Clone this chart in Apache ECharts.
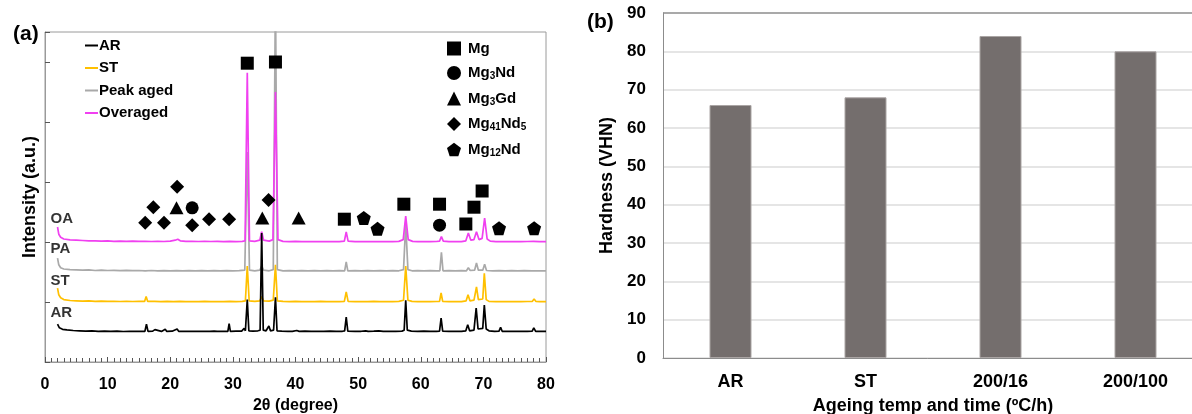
<!DOCTYPE html>
<html>
<head>
<meta charset="utf-8">
<script src="https://cdn.jsdelivr.net/npm/echarts@6/dist/echarts.min.js"></script>
<style>
  html, body { margin: 0; padding: 0; background: #fff; }
  #chart { width: 1192px; height: 414px; }
</style>
</head>
<body>
<div id="chart"></div>
<script>
// ---- (a) XRD patterns, stacked with vertical offsets: [2θ (deg), intensity (a.u.)] ----
const xrdAR = [
  [2.0,0.63],[2.3,0.57],[2.8,0.545],[3.5,0.535],[4.5,0.525],[5.5,0.52],[6.5,0.515],[7.5,0.52],[8.5,0.512],[9.5,0.515],
  [10.5,0.51],[11.5,0.514],[12.5,0.508],[13.5,0.512],[14.5,0.51],[15.5,0.512],[15.95,0.51],[16.2,0.63],[16.45,0.51],
  [17.2,0.515],[17.55,0.54],[17.8,0.512],[18.6,0.51],[19.2,0.545],[19.45,0.51],[20.3,0.513],[21.1,0.55],[21.35,0.51],
  [22.3,0.512],[23.4,0.51],[23.65,0.54],[23.9,0.51],[24.8,0.512],[25.8,0.51],[26.1,0.54],[26.35,0.51],[27.0,0.513],
  [27.3,0.53],[27.5,0.51],[28.5,0.512],[29.2,0.51],[29.4,0.64],[29.6,0.51],[30.5,0.514],[31.4,0.515],[31.8,0.56],
  [32.0,0.52],[32.3,1.04],[32.55,0.52],[33.2,0.515],[34.0,0.52],[34.35,0.53],[34.6,2.15],[34.85,0.53],[35.3,0.52],
  [35.75,0.6],[36.0,0.52],[36.5,0.53],[36.8,1.08],[37.05,0.52],[37.8,0.515],[38.8,0.512],[39.5,0.51],[40.2,0.525],
  [40.6,0.51],[41.5,0.513],[42.5,0.51],[43.5,0.512],[44.5,0.51],[45.5,0.515],[46.5,0.51],[47.5,0.512],[47.85,0.52],
  [48.1,0.75],[48.35,0.515],[49.5,0.51],[50.5,0.512],[51.2,0.52],[51.6,0.51],[52.5,0.514],[53.3,0.52],[54.0,0.51],
  [55.0,0.512],[56.0,0.51],[57.0,0.515],[57.35,0.53],[57.6,1.03],[57.85,0.53],[58.5,0.515],[59.5,0.51],[60.5,0.513],
  [61.5,0.51],[62.5,0.512],[63.0,0.515],[63.25,0.73],[63.5,0.515],[64.5,0.51],[65.5,0.512],[66.5,0.51],[67.2,0.52],
  [67.5,0.62],[67.8,0.52],[68.5,0.53],[68.85,0.9],[69.15,0.55],[69.9,0.56],[70.15,0.95],[70.45,0.55],[70.9,0.52],
  [71.8,0.51],[72.5,0.515],[72.75,0.58],[73.0,0.512],[74.0,0.51],[75.0,0.512],[76.0,0.51],[77.0,0.512],[77.8,0.515],
  [78.05,0.57],[78.35,0.512],[79.0,0.51],[80.0,0.51]
];
const xrdST = [
  [2.0,1.23],[2.2,1.12],[2.5,1.07],[3.0,1.04],[4.0,1.025],[5.0,1.02],[6.0,1.015],[7.0,1.02],[8.0,1.01],[9.0,1.015],
  [10.0,1.01],[11.0,1.012],[12.0,1.008],[13.0,1.01],[14.0,1.008],[15.0,1.01],[15.9,1.01],[16.15,1.09],[16.4,1.01],
  [17.5,1.012],[18.5,1.005],[19.5,1.01],[20.5,1.005],[21.5,1.01],[22.5,1.005],[23.5,1.008],[24.5,1.005],[25.5,1.01],
  [26.5,1.005],[27.5,1.008],[28.5,1.005],[29.5,1.01],[30.5,1.005],[31.5,1.01],[32.0,1.02],[32.3,1.6],[32.6,1.02],
  [33.5,1.01],[34.3,1.02],[34.6,1.09],[34.9,1.02],[35.8,1.015],[36.45,1.03],[36.8,1.62],[37.1,1.02],[38.0,1.01],
  [39.0,1.005],[40.0,1.01],[41.0,1.005],[42.0,1.008],[43.0,1.005],[44.0,1.01],[45.0,1.005],[46.0,1.008],[47.0,1.005],
  [47.8,1.01],[48.1,1.17],[48.4,1.01],[49.5,1.005],[50.5,1.008],[51.5,1.005],[52.5,1.01],[53.5,1.005],[54.5,1.008],
  [55.5,1.005],[56.5,1.01],[57.25,1.03],[57.6,1.6],[57.95,1.03],[58.6,1.01],[59.5,1.005],[60.5,1.008],[61.5,1.005],
  [62.5,1.008],[63.0,1.01],[63.25,1.15],[63.5,1.01],[64.5,1.005],[65.5,1.008],[66.5,1.005],[67.25,1.02],[67.55,1.12],
  [67.85,1.02],[68.5,1.03],[68.9,1.25],[69.2,1.04],[69.9,1.05],[70.15,1.48],[70.45,1.04],[70.9,1.01],[72.0,1.005],
  [73.0,1.008],[74.0,1.005],[75.0,1.008],[76.0,1.005],[77.0,1.008],[77.8,1.01],[78.1,1.05],[78.4,1.01],[79.0,1.005],
  [80.0,1.005]
];
const xrdPA = [
  [2.0,1.73],[2.2,1.62],[2.5,1.57],[3.0,1.55],[4.0,1.54],[5.0,1.535],[6.0,1.53],[7.0,1.535],[8.0,1.525],[9.0,1.53],
  [10.0,1.525],[11.0,1.528],[12.0,1.522],[13.0,1.526],[14.0,1.522],[15.0,1.525],[16.0,1.52],[17.0,1.525],[18.0,1.52],
  [19.0,1.524],[20.0,1.52],[21.0,1.524],[22.0,1.52],[23.0,1.523],[24.0,1.52],[25.0,1.524],[26.0,1.52],[27.0,1.523],
  [28.0,1.52],[29.0,1.523],[30.0,1.52],[31.0,1.522],[31.9,1.53],[32.3,3.5],[32.65,1.53],[33.5,1.52],[34.3,1.53],
  [34.6,1.6],[34.9,1.53],[35.8,1.52],[36.45,1.54],[36.8,6.2],[37.1,1.54],[38.0,1.52],[39.0,1.523],[40.0,1.52],
  [41.0,1.522],[42.0,1.519],[43.0,1.522],[44.0,1.52],[45.0,1.522],[46.0,1.519],[47.0,1.522],[47.85,1.52],[48.1,1.67],
  [48.35,1.52],[49.5,1.522],[50.5,1.519],[51.5,1.522],[52.5,1.52],[53.5,1.522],[54.5,1.519],[55.5,1.522],[56.5,1.52],
  [57.25,1.54],[57.6,2.3],[57.95,1.54],[58.6,1.52],[59.5,1.522],[60.5,1.519],[61.5,1.522],[62.5,1.52],[63.05,1.52],
  [63.3,1.83],[63.55,1.52],[64.5,1.522],[65.5,1.519],[66.5,1.522],[67.3,1.52],[67.6,1.57],[67.9,1.525],[68.6,1.53],
  [68.9,1.65],[69.2,1.53],[69.9,1.53],[70.2,1.63],[70.5,1.525],[71.5,1.52],[72.5,1.522],[73.5,1.519],[74.5,1.522],
  [75.5,1.52],[76.5,1.522],[77.8,1.52],[78.1,1.55],[78.4,1.52],[79.0,1.521],[80.0,1.52]
];
const xrdOA = [
  [2.0,2.25],[2.2,2.13],[2.5,2.08],[3.0,2.05],[4.0,2.035],[5.0,2.03],[6.0,2.025],[7.0,2.02],[8.0,2.02],[9.0,2.015],
  [10.0,2.018],[11.0,2.012],[12.0,2.015],[13.0,2.01],[14.0,2.013],[15.0,2.01],[16.0,2.012],[17.0,2.008],[18.0,2.012],
  [19.0,2.008],[20.0,2.015],[20.8,2.03],[21.2,2.045],[21.6,2.02],[22.5,2.01],[23.5,2.012],[24.5,2.008],[25.5,2.01],
  [26.5,2.008],[27.5,2.01],[28.5,2.006],[29.5,2.01],[30.5,2.006],[31.5,2.01],[31.95,2.02],[32.3,4.82],[32.65,2.02],
  [33.5,2.01],[34.3,2.03],[34.6,2.17],[34.9,2.03],[35.8,2.015],[36.4,2.04],[36.8,4.5],[37.2,2.04],[38.0,2.01],
  [39.0,2.006],[40.0,2.01],[41.0,2.006],[42.0,2.008],[43.0,2.005],[44.0,2.008],[45.0,2.005],[46.0,2.008],[47.0,2.005],
  [47.8,2.015],[48.1,2.17],[48.4,2.015],[49.5,2.005],[50.5,2.008],[51.5,2.005],[52.5,2.008],[53.5,2.005],[54.5,2.008],
  [55.5,2.005],[56.5,2.01],[57.2,2.04],[57.6,2.43],[58.0,2.04],[58.7,2.01],[59.5,2.005],[60.5,2.008],[61.5,2.005],
  [62.5,2.008],[63.0,2.015],[63.3,2.09],[63.6,2.015],[64.5,2.005],[65.5,2.008],[66.5,2.005],[67.2,2.02],[67.6,2.15],
  [68.0,2.03],[68.5,2.04],[68.9,2.17],[69.3,2.04],[69.8,2.06],[70.2,2.4],[70.6,2.05],[71.1,2.015],[72.0,2.005],
  [73.0,2.008],[74.0,2.005],[75.0,2.008],[76.0,2.005],[77.0,2.008],[78.0,2.012],[79.0,2.005],[80.0,2.005]
];

// ---- phase identification markers: [2θ, marker height] ----
const phaseMg     = [[32.3,4.98],[36.8,5.0],[47.8,2.38],[57.3,2.63],[63.0,2.63],[68.5,2.58],[69.8,2.85],[67.2,2.3]];
const phaseMg3Nd  = [[23.5,2.57],[63.0,2.28]];
const phaseMg3Gd  = [[21.0,2.57],[34.7,2.4],[40.5,2.4]];
const phaseMg41Nd5 = [[16.0,2.32],[17.3,2.58],[19.0,2.32],[21.1,2.92],[23.5,2.28],[26.2,2.38],[29.4,2.38],[35.7,2.7]];
const phaseMg12Nd = [[50.9,2.4],[53.1,2.22],[72.5,2.23],[78.1,2.23]];

// ---- trace name tags drawn beside each pattern: [text, 2θ, height] ----
const traceTags = [['OA',0.8,2.39],['PA',0.8,1.89],['ST',0.8,1.35],['AR',0.8,0.82]];

// ---- (b) hardness ----
const conditions = ['AR', 'ST', '200/16', '200/100'];
const hardness = [66, 68, 84, 80];

const FONT = 'Arial, "Liberation Sans", Helvetica, sans-serif';
const pentagon = 'path://M50,0 L97.6,34.5 L79.4,90.5 L20.6,90.5 L2.4,34.5 Z';

const phaseLabels = {
  'Mg': 'Mg',
  'Mg3Nd': 'Mg{s|3}Nd',
  'Mg3Gd': 'Mg{s|3}Gd',
  'Mg41Nd5': 'Mg{s|41}Nd{s|5}',
  'Mg12Nd': 'Mg{s|12}Nd'
};

function xrdLine(name, data, color) {
  return {
    name, type: 'line', data, xAxisIndex: 0, yAxisIndex: 0,
    symbol: 'none', clip: true, animation: false,
    lineStyle: { color, width: 1.7 }, itemStyle: { color }
  };
}
function phase(name, data, symbol, size) {
  return {
    name, type: 'scatter', data, xAxisIndex: 0, yAxisIndex: 0,
    symbol, symbolSize: size, animation: false,
    itemStyle: { color: '#000', opacity: 1 }, z: 5
  };
}

const chart = echarts.init(document.getElementById('chart'), null, { renderer: 'canvas' });

chart.setOption({
  backgroundColor: '#fff',
  textStyle: { fontFamily: FONT },
  title: [
    { text: '(a)', left: 8, top: 19, textStyle: { fontSize: 21, fontWeight: 'bold', color: '#000', fontFamily: FONT } },
    { text: '(b)', left: 582, top: 7, textStyle: { fontSize: 21, fontWeight: 'bold', color: '#000', fontFamily: FONT } }
  ],
  legend: [
    {
      data: ['AR', 'ST', 'Peak aged', 'Overaged'],
      orient: 'vertical', left: 80, top: 33,
      icon: 'rect', itemWidth: 13, itemHeight: 2, itemGap: 7.5,
      textStyle: { fontSize: 15, fontWeight: 'bold', color: '#000', fontFamily: FONT, padding: [0, 0, 0, -4] }
    },
    {
      data: ['Mg', 'Mg3Nd', 'Mg3Gd', 'Mg41Nd5', 'Mg12Nd'],
      orient: 'vertical', left: 442, top: 36,
      itemWidth: 14, itemHeight: 14, itemGap: 9.5,
      formatter: (n) => phaseLabels[n],
      itemStyle: { opacity: 1 },
      textStyle: {
        fontSize: 15, fontWeight: 'bold', color: '#000', fontFamily: FONT, padding: [0, 0, 0, 2],
        rich: { s: { fontSize: 10, fontWeight: 'bold', fontFamily: FONT, padding: [7, 0, 0, 0] } }
      }
    }
  ],
  grid: [
    { left: 45, right: 646, top: 32, bottom: 52, outerBoundsMode: 'none',
      show: true, borderColor: '#9a9a9a', borderWidth: 1 },
    { left: 663, width: 540, top: 13, bottom: 56, outerBoundsMode: 'none' }
  ],
  xAxis: [
    {
      type: 'value', gridIndex: 0, min: 0, max: 80, interval: 10,
      name: '2θ (degree)', nameLocation: 'middle', nameGap: 34,
      nameTextStyle: { fontSize: 16, fontWeight: 'bold', color: '#000', fontFamily: FONT },
      axisLine: { show: true, lineStyle: { color: '#9a9a9a', width: 1 } },
      axisTick: { show: true, inside: true, length: 5, lineStyle: { color: '#555' } },
      minorTick: { show: true, splitNumber: 10, length: 4, lineStyle: { color: '#555' } },
      splitLine: { show: false },
      axisLabel: { fontSize: 16, fontWeight: 'bold', color: '#000', margin: 15, fontFamily: FONT }
    },
    {
      type: 'category', gridIndex: 1, data: conditions,
      name: 'Ageing temp and time (ºC/h)', nameLocation: 'middle', nameGap: 39,
      nameTextStyle: { fontSize: 18, fontWeight: 'bold', color: '#000', fontFamily: FONT },
      axisLine: { show: true, lineStyle: { color: '#8c8c8c', width: 1 } },
      axisTick: { show: false },
      axisLabel: { fontSize: 18, fontWeight: 'bold', color: '#000', margin: 15, fontFamily: FONT }
    }
  ],
  yAxis: [
    {
      type: 'value', gridIndex: 0, min: 0, max: 5.5, interval: 1,
      name: 'Intensity (a.u.)', nameLocation: 'middle', nameGap: 6,
      nameTextStyle: { fontSize: 18, fontWeight: 'bold', color: '#000', fontFamily: FONT },
      axisLine: { show: true, lineStyle: { color: '#9a9a9a', width: 1 } },
      axisTick: { show: true, inside: true, length: 5, lineStyle: { color: '#555' } },
      axisLabel: { show: false },
      splitLine: { show: false }
    },
    {
      type: 'value', gridIndex: 1, min: 0, max: 90, interval: 10,
      name: 'Hardness (VHN)', nameLocation: 'middle', nameGap: 47,
      nameTextStyle: { fontSize: 18, fontWeight: 'bold', color: '#000', fontFamily: FONT },
      axisLine: { show: true, lineStyle: { color: '#8c8c8c', width: 1 } },
      axisTick: { show: false },
      axisLabel: { fontSize: 17, fontWeight: 'bold', color: '#000', margin: 17, fontFamily: FONT },
      splitLine: {
        show: true,
        lineStyle: {
          width: 1.5,
          color: ['#dcdcdc', '#dcdcdc', '#dcdcdc', '#dcdcdc', '#dcdcdc', '#dcdcdc', '#dcdcdc', '#dcdcdc', '#dcdcdc', '#8c8c8c']
        }
      }
    }
  ],
  series: [
    xrdLine('ST', xrdST, '#ffc000'),
    xrdLine('Peak aged', xrdPA, '#a9a9a9'),
    xrdLine('Overaged', xrdOA, '#f040f0'),
    xrdLine('AR', xrdAR, '#000000'),
    phase('Mg', phaseMg, 'rect', 13),
    phase('Mg3Nd', phaseMg3Nd, 'circle', 13),
    phase('Mg3Gd', phaseMg3Gd, 'triangle', [14, 13]),
    phase('Mg41Nd5', phaseMg41Nd5, 'diamond', 14),
    phase('Mg12Nd', phaseMg12Nd, pentagon, 14),
    {
      type: 'scatter', xAxisIndex: 0, yAxisIndex: 0, animation: false, silent: true,
      symbolSize: 1, itemStyle: { color: 'transparent' },
      data: traceTags.map(t => ({ name: t[0], value: [t[1], t[2]] })),
      label: {
        show: true, position: 'right', distance: 0, formatter: '{b}',
        fontSize: 15, fontWeight: 'bold', color: '#000', fontFamily: FONT
      }
    },
    {
      name: 'Hardness', type: 'bar', xAxisIndex: 1, yAxisIndex: 1,
      data: hardness, barWidth: 42, animation: false,
      itemStyle: { color: '#746e6d', borderColor: '#aaa5a4', borderWidth: 1 }
    }
  ]
});
</script>
</body>
</html>
